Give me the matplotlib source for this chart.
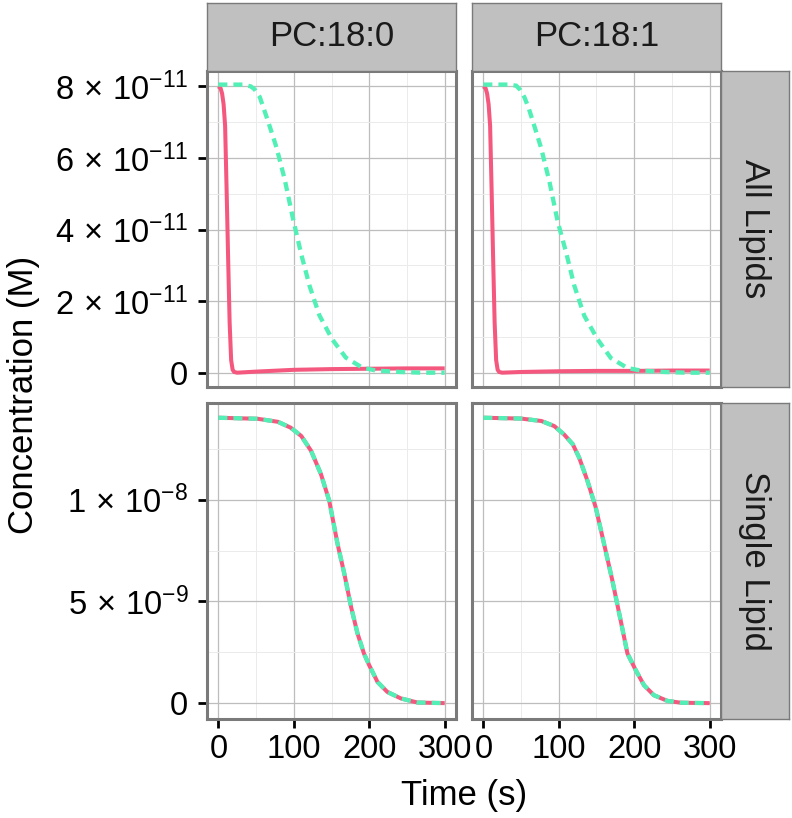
import numpy as np
import matplotlib
matplotlib.use("Agg")
import matplotlib.pyplot as plt
from matplotlib.ticker import FixedLocator, FixedFormatter

plt.rcParams['font.family'] = ['Liberation Sans', 'DejaVu Sans']
plt.rcParams['mathtext.fontset'] = 'custom'
plt.rcParams['mathtext.rm'] = 'Liberation Sans'
plt.rcParams['mathtext.it'] = 'Liberation Sans:italic'
plt.rcParams['mathtext.bf'] = 'Liberation Sans:bold'

# ---------------- data ----------------
col_labels = ["PC:18:0", "PC:18:1"]
row_labels = ["All Lipids", "Single Lipid"]

# All Lipids, red solid (x1e-11 M)
t_red_180 = [0, 3, 5, 7, 9, 11, 13, 15, 17, 19, 21, 25, 50, 100, 150, 200, 250, 300]
v_red_180 = [8.0, 7.95, 7.8, 7.5, 6.9, 5.1, 3.2, 1.4, 0.35, 0.08, 0.02, 0.0, 0.03, 0.08, 0.10, 0.11, 0.12, 0.12]
t_red_181 = [0, 3, 5, 7, 9, 11, 13, 15, 17, 19, 21, 25, 50, 100, 150, 200, 250, 300]
v_red_181 = [8.0, 7.95, 7.8, 7.5, 6.9, 5.1, 3.2, 1.4, 0.35, 0.08, 0.02, 0.0, 0.02, 0.04, 0.05, 0.05, 0.06, 0.06]

# All Lipids, teal dashed (x1e-11 M)
t_teal_180 = [0, 20, 33, 43, 48, 55, 66, 77, 88, 99, 110, 121, 134, 151, 169, 191, 209, 240, 270, 300]
v_teal_180 = [8.05, 8.05, 8.05, 8.0, 7.92, 7.7, 7.02, 6.3, 5.4, 4.3, 3.3, 2.42, 1.6, 0.93, 0.42, 0.14, 0.06, 0.02, 0.0, 0.0]
t_teal_181 = [0, 20, 33, 43.6, 49, 54.6, 60, 65.6, 76.6, 87.6, 98.6, 109.6, 120.6, 133.8, 151.5, 169, 191, 208.7, 240, 270, 300]
v_teal_181 = [8.05, 8.05, 8.05, 8.02, 7.9, 7.69, 7.4, 7.03, 6.28, 5.34, 4.22, 3.37, 2.43, 1.59, 0.93, 0.41, 0.13, 0.06, 0.02, 0.0, 0.0]

# Single Lipid (x1e-9 M), both series identical
t_single_180 = [0, 52, 79, 96, 110, 123, 136, 147, 158, 167, 176, 184.5, 193, 200, 211, 224, 242, 264, 300]
v_single_180 = [14.03, 13.98, 13.83, 13.54, 13.13, 12.40, 11.26, 9.95, 7.83, 6.36, 4.72, 3.42, 2.44, 1.86, 1.04, 0.55, 0.23, 0.03, 0.0]
t_single_181 = [0, 50, 77, 94, 107, 118.5, 127, 138, 149, 160, 171, 182, 191, 202, 213, 226, 244, 262, 300]
v_single_181 = [14.03, 13.99, 13.87, 13.62, 13.21, 12.73, 12.07, 10.93, 9.62, 7.83, 6.03, 4.07, 2.44, 1.62, 0.88, 0.39, 0.11, 0.02, 0.0]

top_yticks = [0, 2e-11, 4e-11, 6e-11, 8e-11]
top_ylabels = ["0", r"$2\,\times\,10^{-11}$", r"$4\,\times\,10^{-11}$", r"$6\,\times\,10^{-11}$", r"$8\,\times\,10^{-11}$"]
bot_yticks = [0, 5e-9, 1e-8]
bot_ylabels = ["0", r"$5\,\times\,10^{-9}$", r"$1\,\times\,10^{-8}$"]
xticks = [0, 100, 200, 300]
xlabels = ["0", "100", "200", "300"]

RED = "#F4587E"
TEAL = "#52F0B6"

W, H = 792, 818
fig = plt.figure(figsize=(W / 100, H / 100), dpi=100)

def rect(x0, y0, x1, y1):
    return [x0 / W, 1 - y1 / H, (x1 - x0) / W, (y1 - y0) / H]

cols_x = [(207, 456), (472, 721)]
rows_y = [(71, 387), (403, 719)]

data = {
    (0, 0): (t_red_180, np.array(v_red_180) * 1e-11, t_teal_180, np.array(v_teal_180) * 1e-11),
    (0, 1): (t_red_181, np.array(v_red_181) * 1e-11, t_teal_181, np.array(v_teal_181) * 1e-11),
    (1, 0): (t_single_180, np.array(v_single_180) * 1e-9, t_single_180, np.array(v_single_180) * 1e-9),
    (1, 1): (t_single_181, np.array(v_single_181) * 1e-9, t_single_181, np.array(v_single_181) * 1e-9),
}

ylims = [(-0.4e-11, 8.43e-11), (-0.078e-8, 1.4755e-8)]
border_col = "#7A7A7A"

for r in range(2):
    for c in range(2):
        x0, x1 = cols_x[c]
        y0, y1 = rows_y[r]
        ax = fig.add_axes(rect(x0, y0, x1, y1))
        tr, vr, tt, vt = data[(r, c)]
        ax.plot(tr, vr, color=RED, lw=2.9, solid_capstyle='butt', solid_joinstyle='round', zorder=3)
        ax.plot(tt, vt, color=TEAL, lw=3.1, linestyle=(0, (2.1, 1.4)), zorder=4)
        ax.set_xlim(-15, 315)
        ax.set_ylim(*ylims[r])
        ax.xaxis.set_major_locator(FixedLocator(xticks))
        ax.xaxis.set_minor_locator(FixedLocator([50, 150, 250]))
        if r == 0:
            ax.yaxis.set_major_locator(FixedLocator(top_yticks))
            ax.yaxis.set_minor_locator(FixedLocator([1e-11, 3e-11, 5e-11, 7e-11]))
        else:
            ax.yaxis.set_major_locator(FixedLocator(bot_yticks))
            ax.yaxis.set_minor_locator(FixedLocator([2.5e-9, 7.5e-9, 1.25e-8]))
        ax.grid(True, which='major', color='#BDBDBD', lw=0.9, zorder=0)
        ax.grid(True, which='minor', color='#EBEBEB', lw=0.7, zorder=0)
        ax.set_axisbelow(True)
        for s in ax.spines.values():
            s.set_color(border_col)
            s.set_linewidth(2.2)
        ax.tick_params(which='minor', length=0)
        ax.tick_params(which='major', length=6.5, width=2, color='black',
                       labelsize=23.5, direction='out')
        ax.tick_params(axis='y', pad=7)
        ax.tick_params(axis='x', pad=4)
        if c == 0:
            if r == 0:
                ax.yaxis.set_major_formatter(FixedFormatter(top_ylabels))
            else:
                ax.yaxis.set_major_formatter(FixedFormatter(bot_ylabels))
        else:
            ax.tick_params(axis='y', length=0, labelleft=False)
        if r == 1:
            ax.xaxis.set_major_formatter(FixedFormatter(xlabels))
        else:
            ax.tick_params(axis='x', length=0, labelbottom=False)

STRIP = "#C0C0C0"
for c in range(2):
    x0, x1 = cols_x[c]
    sax = fig.add_axes(rect(x0, 3, x1, 71))
    sax.set_facecolor(STRIP)
    sax.set_xticks([]); sax.set_yticks([])
    for s in sax.spines.values():
        s.set_color(border_col); s.set_linewidth(1.0)
    sax.text(0.5, 0.5, col_labels[c], ha='center', va='center', fontsize=25,
             transform=sax.transAxes, color='#1A1A1A')

for r in range(2):
    y0, y1 = rows_y[r]
    sax = fig.add_axes(rect(721, y0, 789, y1))
    sax.set_facecolor(STRIP)
    sax.set_xticks([]); sax.set_yticks([])
    for s in sax.spines.values():
        s.set_color(border_col); s.set_linewidth(1.0)
    sax.text(0.5, 0.5, row_labels[r], ha='center', va='center', fontsize=25,
             rotation=-90, transform=sax.transAxes, color='#1A1A1A')

fig.text(464 / W, 1 - 795 / H, "Time (s)", ha='center', va='center', fontsize=25)
fig.text(24 / W, 1 - 395 / H, "Concentration (M)", ha='center', va='center',
         fontsize=25, rotation=90)

fig.savefig("out.png", dpi=100)
